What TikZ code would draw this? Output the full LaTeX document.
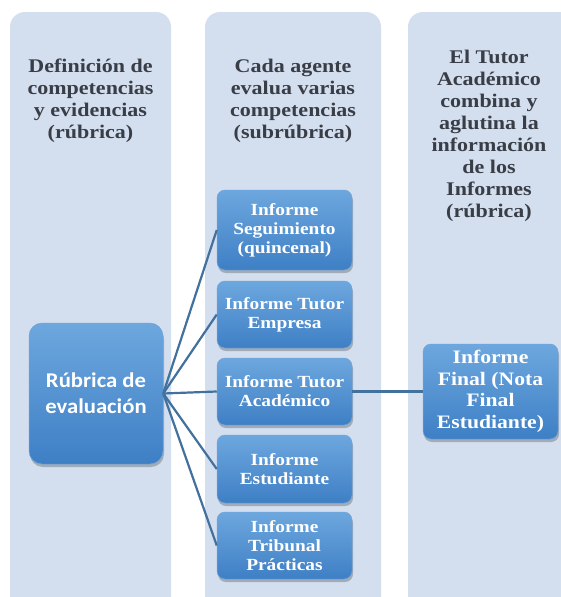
\documentclass[tikz,border=0pt]{standalone}
\usepackage{fontspec}
\setmainfont[FakeStretch=1.14]{Liberation Serif}
\newfontfamily\calib[FakeStretch=1.08]{Carlito}
\usetikzlibrary{shadows}
\definecolor{colbg}{HTML}{D3DEEF}
\definecolor{boxtop}{HTML}{6DA7DE}
\definecolor{boxbot}{HTML}{3E7FC5}
\definecolor{boxedge}{HTML}{6FA6DB}
\definecolor{hdrtext}{HTML}{393D46}
\definecolor{linkc}{HTML}{41719C}
\tikzset{
  colpanel/.style={fill=colbg, rounded corners=15pt},
  hdr/.style={align=center, text=hdrtext, font=\bfseries\fontsize{19.3}{22}\selectfont, inner sep=0pt},
  bluebox/.style={rounded corners=8pt, top color=boxtop, bottom color=boxbot, draw=boxedge, line width=0.5pt,
    text=white, align=center, inner sep=0pt, minimum width=135pt,
    drop shadow={shadow xshift=1pt, shadow yshift=-3pt, opacity=0.35, fill=black!70}},
  infobox/.style={bluebox, font=\bfseries\fontsize{17}{19}\selectfont},
  finbox/.style={bluebox, font=\bfseries\fontsize{19}{21.5}\selectfont},
  rubbox/.style={bluebox, rounded corners=13pt, minimum width=134pt, font=\calib\bfseries\fontsize{21}{26}\selectfont},
  link/.style={draw=linkc, line width=2.2pt}
}
\begin{document}
\begin{tikzpicture}[x=1pt,y=-1pt]
\useasboundingbox (0,0) rectangle (560,597);
\fill[white] (0,0) rectangle (560,597);
\fill[colpanel] (10,12) rectangle (171,620);
\fill[colpanel] (205,12) rectangle (381,620);
\fill[colpanel] (408,12) rectangle (585,620);

\node[hdr] (h1) at (90.5,101) {Definición de\\competencias\\y evidencias\\(rúbrica)};
\node[hdr] (h2) at (293,101) {Cada agente\\evalua varias\\competencias\\(subrúbrica)};
\node[hdr] (h3) at (489,135.5) {El Tutor\\Académico\\combina y\\aglutina la\\información\\de los\\Informes\\(rúbrica)};

\node[rubbox, minimum height=141pt] (rub) at (96,393.5) {Rúbrica de\\evaluación};
\node[infobox, minimum height=80pt] (b1) at (284.5,230) {Informe\\Seguimiento\\(quincenal)};
\node[infobox, minimum height=67pt] (b2) at (284.5,314.5) {Informe Tutor\\Empresa};
\node[infobox, minimum height=67pt] (b3) at (284.5,391.5) {Informe Tutor\\Académico};
\node[infobox, minimum height=68pt] (b4) at (284.5,469) {Informe\\Estudiante};
\node[infobox, minimum height=67pt] (b5) at (284.5,545.5) {Informe\\Tribunal\\Prácticas};
\node[finbox, minimum height=95pt] (fin) at (490.5,391.5) {Informe\\Final (Nota\\Final\\Estudiante)};

\draw[link] (rub.east) -- (b1.west);
\draw[link] (rub.east) -- (b2.west);
\draw[link] (rub.east) -- (b3.west);
\draw[link] (rub.east) -- (b4.west);
\draw[link] (rub.east) -- (b5.west);
\draw[link] (b3.east) -- (fin.west);
\end{tikzpicture}
\end{document}
